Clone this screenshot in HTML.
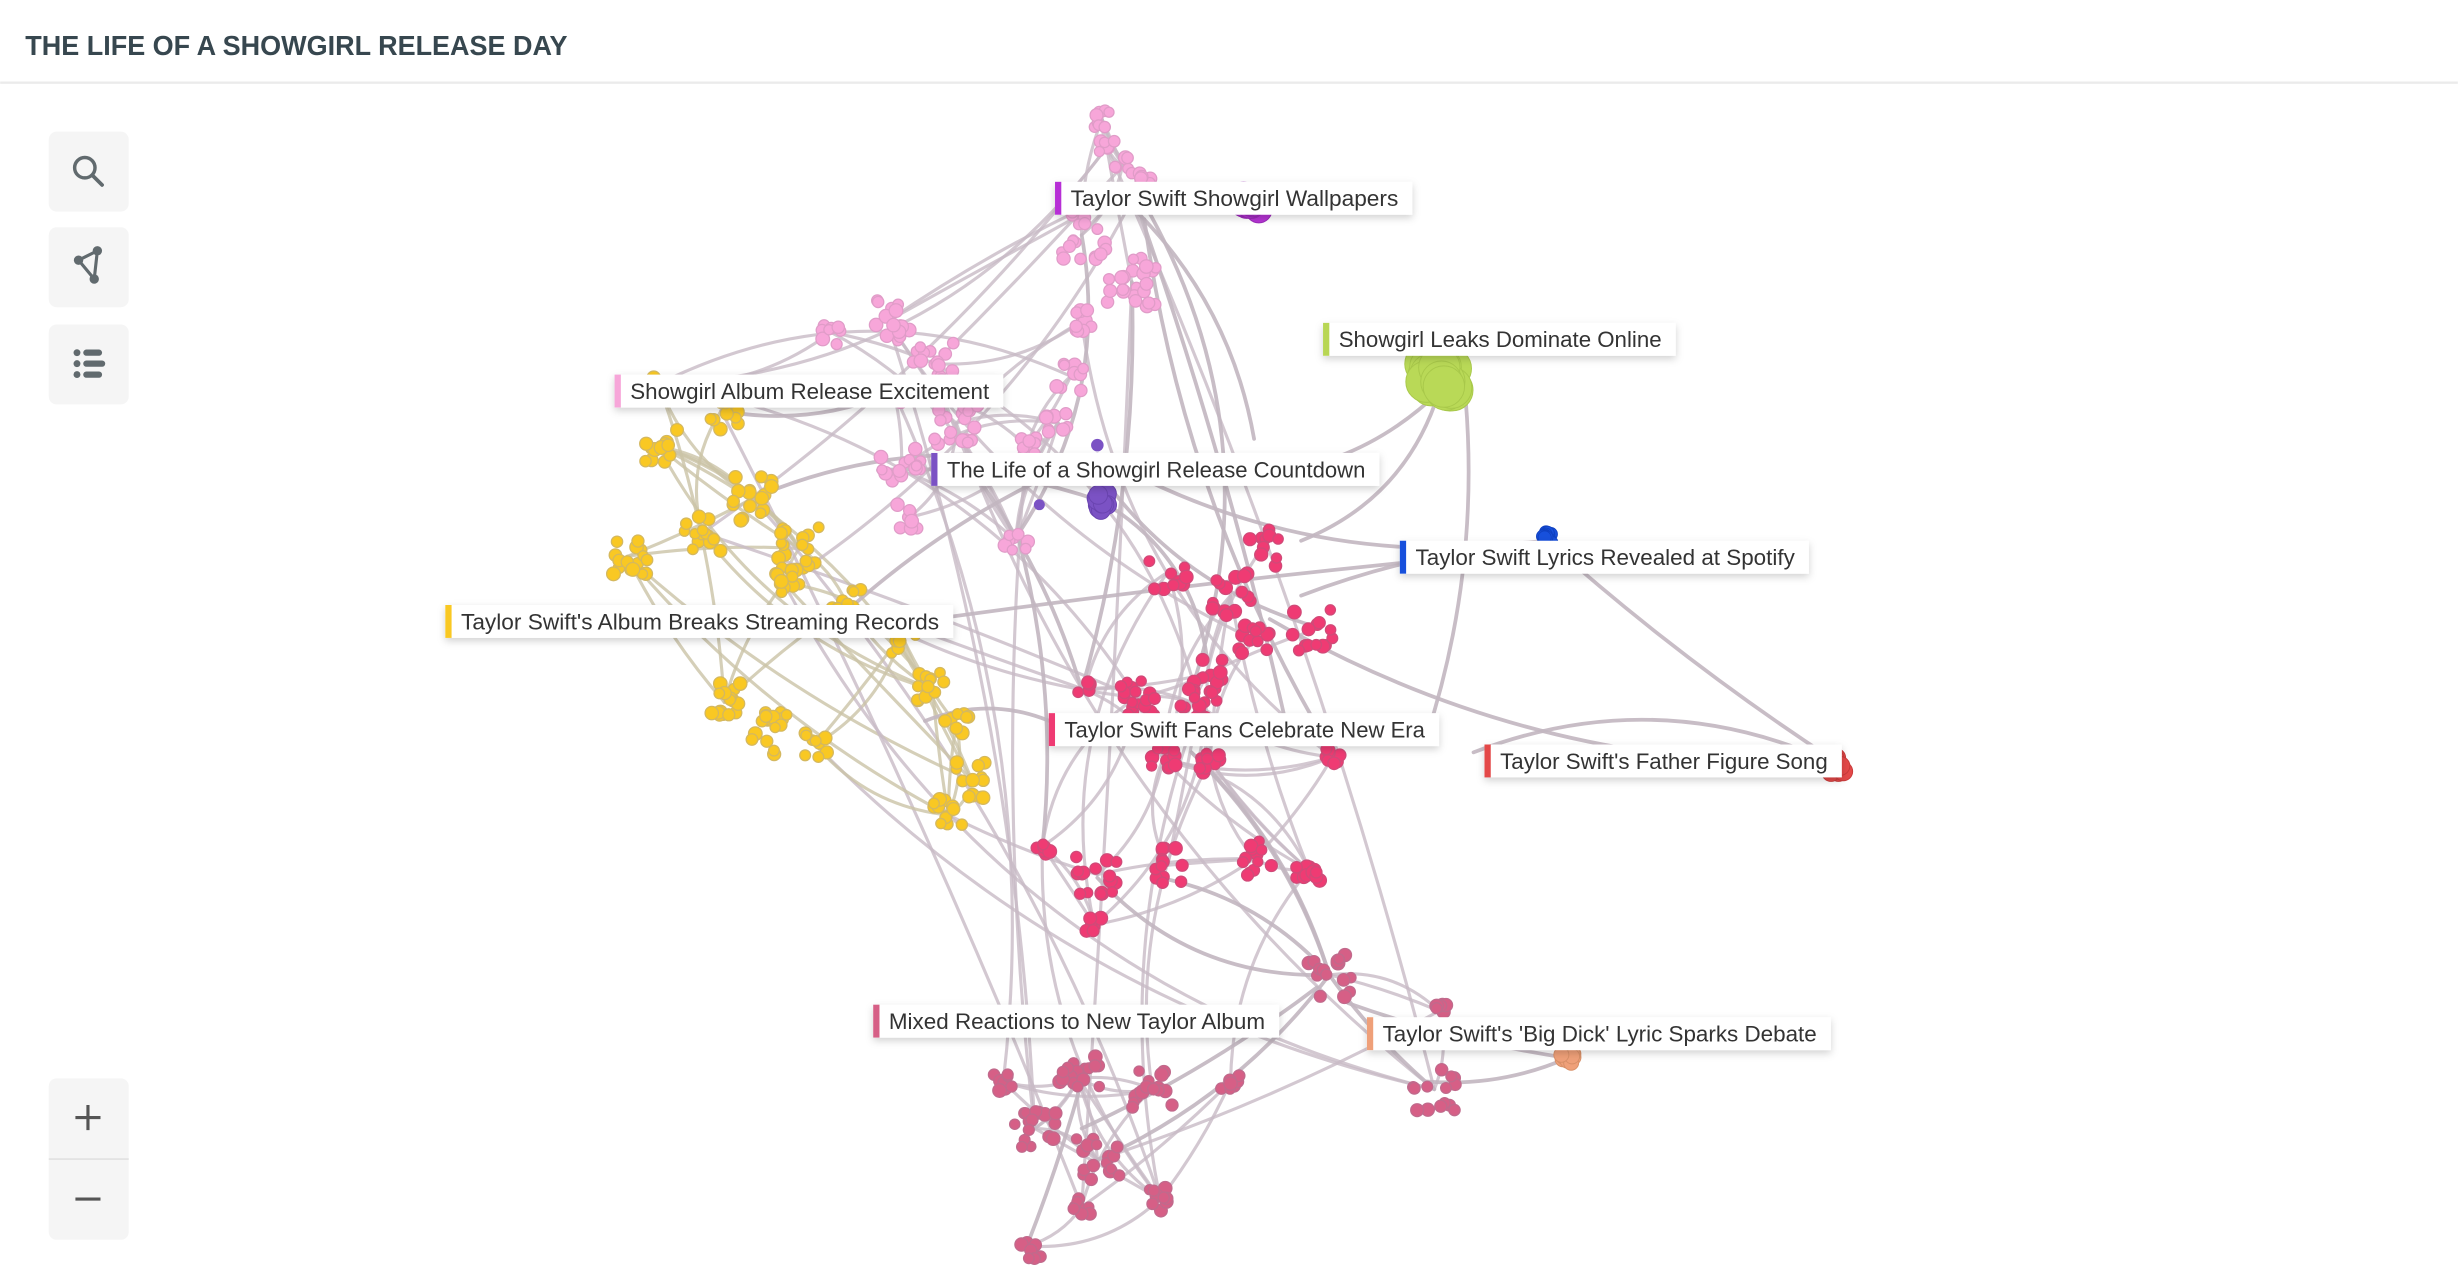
<!DOCTYPE html>
<html><head><meta charset="utf-8">
<style>
html,body{margin:0;padding:0;background:#fff;width:2458px;height:1268px;overflow:hidden}
svg{display:block}
text{font-family:"Liberation Sans",Arial,sans-serif}
</style></head>
<body>
<svg id="s" width="2458" height="1268" viewBox="0 0 1568 809" xmlns="http://www.w3.org/2000/svg">
<defs>
<filter id="sh" x="-10%" y="-30%" width="120%" height="180%"><feDropShadow dx="0" dy="2" stdDeviation="2.5" flood-color="#000" flood-opacity="0.18"/></filter>
</defs>
<rect x="0" y="0" width="1568" height="52" fill="#fff"/>
<text x="16" y="35" font-size="18" font-weight="bold" fill="#37474f" textLength="346" lengthAdjust="spacingAndGlyphs">THE LIFE OF A SHOWGIRL RELEASE DAY</text>
<rect x="0" y="52" width="1568" height="1.5" fill="#ebebeb"/>
<g id="edges" fill="none" stroke-linecap="round"></g>
<g id="nodes"></g>
<rect x="31" y="84" width="51" height="51" rx="5" fill="#f5f5f5"/>
<circle cx="54" cy="107" r="6.5" fill="none" stroke="#616a6e" stroke-width="2.2"/>
<line x1="59" y1="112" x2="65" y2="118" stroke="#616a6e" stroke-width="2.4" stroke-linecap="round"/>
<rect x="31" y="145" width="51" height="51" rx="5" fill="#f5f5f5"/>
<path d="M50 166 L62 160 L60 178 Z" fill="none" stroke="#616a6e" stroke-width="2"/>
<circle cx="50" cy="166" r="3" fill="#616a6e"/><circle cx="62" cy="160" r="3" fill="#616a6e"/><circle cx="60" cy="178" r="3" fill="#616a6e"/>
<rect x="31" y="207" width="51" height="51" rx="5" fill="#f5f5f5"/>
<g fill="#616a6e"><circle cx="49" cy="225" r="2.2"/><circle cx="49" cy="232" r="2.2"/><circle cx="49" cy="239" r="2.2"/>
<rect x="53" y="223" width="12" height="4" rx="2"/><rect x="53" y="230" width="14" height="4" rx="2"/><rect x="53" y="237" width="12" height="4" rx="2"/></g>
<rect x="31" y="688" width="51" height="103" rx="5" fill="#f5f5f5"/>
<rect x="31" y="739" width="51" height="1" fill="#e0e0e0"/>
<path d="M48 713 H64 M56 705 V721" stroke="#555" stroke-width="2"/>
<path d="M48 765 H64" stroke="#555" stroke-width="2"/>
<g id="labels"></g>
</svg>
<script>
(function(){
var seed=12345;function r(){seed=(seed*16807)%2147483647;return (seed-1)/2147483646;}
function u(){return r()*2-1;}
var NS="http://www.w3.org/2000/svg";
var E=document.getElementById("edges"),N=document.getElementById("nodes");
function el(t,a,p){var e=document.createElementNS(NS,t);for(var k in a)e.setAttribute(k,a[k]);p.appendChild(e);return e;}
var C={pink:["#f7a6d9","#e09cc8"],yel:["#f9c823","#d4b860"],red:["#ef3b73","#d04a78"],mau:["#d65f86","#c06a8c"]};
var cl=[
["pink",703,76,8,6],["pink",706,94,6,5],["pink",716,106,6,6],["pink",728,116,8,6],["pink",690,150,18,16],["pink",722,180,22,16],["pink",690,205,10,8],["pink",683,240,10,10],["pink",675,270,8,8],["pink",530,212,8,8],["pink",566,205,16,14],["pink",596,232,16,14],["pink",610,270,18,14],["pink",575,300,14,14],["pink",580,330,10,8],["pink",648,345,8,8],["pink",655,285,8,6],["pink",570,250,8,8],
["yel",420,245,6,5],["yel",460,262,18,12],["yel",420,285,12,12],["yel",400,355,16,14],["yel",448,340,16,12],["yel",480,318,16,14],["yel",510,350,18,14],["yel",500,372,12,10],["yel",540,385,12,12],["yel",575,405,16,12],["yel",595,440,12,12],["yel",462,448,16,12],["yel",490,468,18,14],["yel",520,475,10,8],["yel",610,462,8,8],["yel",620,498,12,12],["yel",605,520,12,10],
["red",745,365,12,12],["red",785,380,16,14],["red",805,350,12,12],["red",838,402,14,14],["red",800,408,12,10],["red",770,430,10,10],["red",692,440,6,5],["red",725,445,18,12],["red",765,450,18,12],["red",742,484,10,8],["red",772,485,10,8],["red",850,483,8,6],["red",665,540,6,5],["red",700,558,18,14],["red",745,552,14,12],["red",800,548,12,12],["red",835,555,12,8],["red",698,590,6,5],
["mau",848,622,16,14],["mau",918,645,6,5],["mau",915,695,14,14],["mau",688,688,16,14],["mau",735,695,16,14],["mau",785,690,8,6],["mau",660,720,16,14],["mau",700,740,16,14],["mau",740,765,10,8],["mau",690,770,8,6],["mau",655,795,10,10],["mau",640,690,8,6]
];
var pts=[];cl.forEach(function(c){pts.push([c[1],c[2],c[0]]);});
function curve(a,b,col,w,op){var mx=(a[0]+b[0])/2,my=(a[1]+b[1])/2,dx=b[0]-a[0],dy=b[1]-a[1];var k=(r()-0.5)*0.5;
el("path",{d:"M"+a[0]+" "+a[1]+" Q"+(mx-dy*k)+" "+(my+dx*k)+" "+b[0]+" "+b[1],stroke:col,"stroke-width":w,opacity:op},E);}
for(var i=0;i<900&&E.childNodes.length<200;i++){var a=pts[Math.floor(r()*pts.length)],b=pts[Math.floor(r()*pts.length)];
var d=Math.hypot(a[0]-b[0],a[1]-b[1]);if(d<15)continue;if(a[2]!=b[2]&&r()<0.75)continue;if(d>120&&r()<0.85)continue;
var col=(a[2]=="yel"&&b[2]=="yel")?"#cbc3a6":"#c8bac6";curve(a,b,col,2,0.8);}
var L=[[[918,250],[760,300]],[[918,250],[830,345]],[[935,255],[910,470]],[[987,345],[700,290]],[[987,345],[830,380]],[[987,345],[1170,485]],[[1170,487],[810,395]],[[1170,487],[940,480]],[[720,130],[800,280]],[[725,130],[820,460]],[[730,140],[850,480]],[[560,400],[990,350]],[[590,460],[680,465]],[[1000,675],[860,640]],[[1000,675],[910,690]],[[848,622],[760,480]],[[848,622],[740,560]],[[690,720],[840,630]],[[480,318],[620,290]],[[460,262],[570,250]],[[540,390],[700,290]],[[703,320],[770,420]],[[703,320],[560,300]],[[690,150],[650,340]],[[722,180],[690,440]],[[730,130],[760,440]],[[700,300],[840,400]],[[620,300],[690,440]],[[650,345],[665,540]],[[700,560],[848,622]],[[760,480],[848,622]],[[848,622],[915,695]],[[848,622],[700,740]],[[690,690],[655,795]]];
L.forEach(function(p){curve(p[0],p[1],"#c2b6c0",2.4,0.9);});
cl.forEach(function(c){var col=C[c[0]];var n=c[3];for(var j=0;j<n;j++){var x=c[1]+u()*c[4],y=c[2]+u()*c[4];
el("circle",{cx:x,cy:y,r:3.2+r()*1.2,fill:col[0],stroke:col[1],"stroke-width":0.8},N);}});
function blob(cx,cy,rx,ry,n,f,s){for(var j=0;j<n;j++){el("circle",{cx:cx+u()*rx*0.4,cy:cy+u()*ry*0.4,r:Math.min(rx,ry)*0.6,fill:f,stroke:s,"stroke-width":0.6},N);}}
blob(798,128,14,16,18,"#b534d3","#9a2ab8");
blob(918,240,22,24,24,"#b9d957","#a8c84a");
blob(987,343,7,9,12,"#1750dc","#0f40c0");
blob(1172,487,10,14,16,"#e44848","#c83a3a");
blob(1000,675,10,8,12,"#efa079","#d89068");
blob(703,320,10,14,16,"#7b52c4","#6a44b0");
el("circle",{cx:700,cy:284,r:4,fill:"#7b52c4"},N);el("circle",{cx:663,cy:322,r:3.5,fill:"#7b52c4"},N);el("circle",{cx:700,cy:300,r:4,fill:"#7b52c4"},N);
var LB=document.getElementById("labels");
var labs=[[673,116,228,"#b72fd6","Taylor Swift Showgirl Wallpapers"],[844,206,225,"#b8d654","Showgirl Leaks Dominate Online"],[392,239,248,"#f7a6d9","Showgirl Album Release Excitement"],[594,289,286,"#7b52c4","The Life of a Showgirl Release Countdown"],[893,345,261,"#1750dc","Taylor Swift Lyrics Revealed at Spotify"],[284,386,324,"#f9c823","Taylor Swift's Album Breaks Streaming Records"],[669,455,249,"#ef3b73","Taylor Swift Fans Celebrate New Era"],[947,475,228,"#e44848","Taylor Swift's Father Figure Song"],[557,641,259,"#d65f86","Mixed Reactions to New Taylor Album"],[872,649,296,"#efa079","Taylor Swift's 'Big Dick' Lyric Sparks Debate"]];
labs.forEach(function(l){el("rect",{x:l[0],y:l[1],width:l[2],height:21,fill:"#fff",filter:"url(#sh)"},LB);
el("rect",{x:l[0],y:l[1],width:4,height:21,fill:l[3]},LB);
var t=el("text",{x:l[0]+10,y:l[1]+15.5,"font-size":14,fill:"#333",textLength:l[2]-19,lengthAdjust:"spacingAndGlyphs"},LB);t.textContent=l[4];});
})();
</script>
</body></html>
